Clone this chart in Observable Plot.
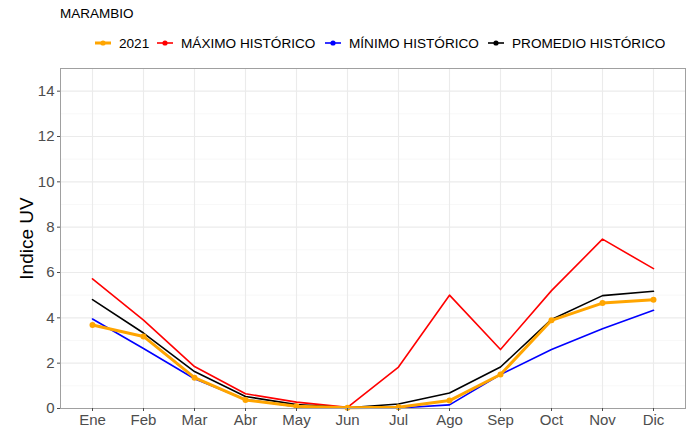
<!DOCTYPE html>
<html><head><meta charset="utf-8">
<script src="https://cdn.jsdelivr.net/npm/d3@7"></script>
<script src="https://cdn.jsdelivr.net/npm/@observablehq/plot@0.6"></script>
<style>
body{margin:0;background:#fff;font-family:"Liberation Sans",Arial,sans-serif;}
#wrap{position:relative;width:691px;height:430px;overflow:hidden;}
#title{position:absolute;left:60px;top:6px;font-size:13.5px;color:#000;}
.item{position:absolute;top:35px;font-size:13.6px;color:#000;display:flex;align-items:center;height:16px;white-space:nowrap;}
.item svg{margin-right:8px;}
#chart{position:absolute;left:0;top:0;}
</style>
</head><body>
<div id="wrap">
<div id="chart"></div>
<div id="title">MARAMBIO</div>
<div id="legend"></div>
</div>
<script>
const months = ["Ene","Feb","Mar","Abr","May","Jun","Jul","Ago","Sep","Oct","Nov","Dic"];
const v2021 = [3.68,3.18,1.36,0.38,0.10,0.03,0.06,0.35,1.50,3.89,4.65,4.80];
const vMax  = [5.72,3.90,1.85,0.65,0.28,0.05,1.83,5.00,2.60,5.20,7.47,6.17];
const vMin  = [3.95,2.65,1.31,0.40,0.08,0.02,0.02,0.16,1.50,2.60,3.52,4.33];
const vMean = [4.80,3.33,1.63,0.53,0.17,0.03,0.20,0.68,1.83,3.93,4.98,5.17];
const seriesNames = ["2021","MÁXIMO HISTÓRICO","MÍNIMO HISTÓRICO","PROMEDIO HISTÓRICO"];
const seriesColors = ["#FFA500","#FF0000","#0000FF","#000000"];
const yMajor = [0,2,4,6,8,10,12,14];
const yMinor = [1,3,5,7,9,11,13,15];

const toRows = (vals, name) => vals.map((v,i)=>({month:months[i], value:v, series:name}));
const rMax = toRows(vMax, seriesNames[1]);
const rMin = toRows(vMin, seriesNames[2]);
const rMean = toRows(vMean, seriesNames[3]);
const r2021 = toRows(v2021, seriesNames[0]);

const chart = Plot.plot({
  width: 691, height: 430,
  marginTop: 68, marginLeft: 60, marginRight: 6, marginBottom: 22,
  style: {fontFamily: "'Liberation Sans', Arial, sans-serif", background: "#fff"},
  x: {type: "point", domain: months, padding: 0.6, label: null},
  y: {domain: [0, 15], label: null},
  marks: [
    Plot.ruleY(yMinor, {stroke: "#f3f3f3", strokeWidth: 0.6}),
    Plot.ruleY(yMajor, {stroke: "#ebebeb", strokeWidth: 1.1}),
    Plot.ruleX(months, {stroke: "#ebebeb", strokeWidth: 1.1}),
    Plot.line(rMax, {x: "month", y: "value", stroke: seriesColors[1], strokeWidth: 1.6}),
    Plot.line(rMin, {x: "month", y: "value", stroke: seriesColors[2], strokeWidth: 1.6}),
    Plot.line(rMean, {x: "month", y: "value", stroke: seriesColors[3], strokeWidth: 1.6}),
    Plot.line(r2021, {x: "month", y: "value", stroke: seriesColors[0], strokeWidth: 3}),
    Plot.dot(r2021, {x: "month", y: "value", fill: seriesColors[0], r: 3}),
    Plot.frame({stroke: "#a0a0a0", strokeWidth: 1}),
    Plot.axisX({tickSize: 3, tickPadding: 3, fontSize: 15, color: "#4d4d4d", label: null}),
    Plot.axisY({ticks: yMajor, tickSize: 3, tickPadding: 3, fontSize: 15, color: "#4d4d4d", label: null}),
    Plot.text(["Indice UV"], {frameAnchor: "left", textAnchor: "middle", lineAnchor: "middle", rotate: -90, dx: -34, fontSize: 19, fill: "#000"})
  ]
});
document.getElementById("chart").appendChild(chart);

const keyLefts = [95, 157, 325, 488];
const legend = document.getElementById("legend");
seriesNames.forEach((name, i) => {
  const d = document.createElement("div");
  d.className = "item";
  d.style.left = keyLefts[i] + "px";
  const w = i === 0 ? 3 : 1.6;
  d.innerHTML = `<svg width="16" height="10"><line x1="0" y1="5" x2="16" y2="5" stroke="${seriesColors[i]}" stroke-width="${w}"/><circle cx="8" cy="5" r="2.6" fill="${seriesColors[i]}"/></svg>${name}`;
  legend.appendChild(d);
});
</script>
</body></html>
